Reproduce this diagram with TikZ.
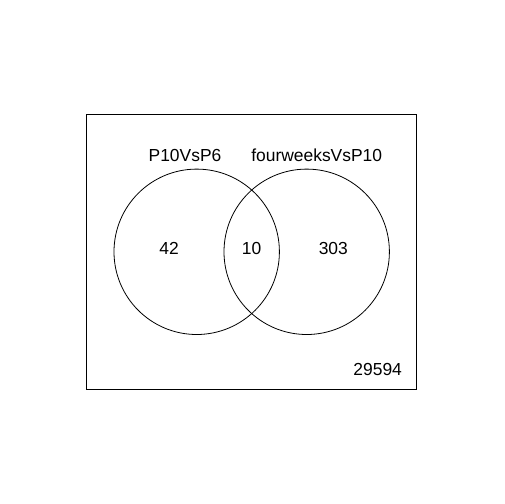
\documentclass[tikz,border=0pt]{standalone}
\usepackage{fontspec}
\setmainfont{Liberation Sans}
\usetikzlibrary{positioning}

\begin{document}
\begin{tikzpicture}[
    x=1bp, y=-1bp,
    line width=0.8bp,
    set/.style={draw, circle, minimum size=165.4bp, inner sep=0pt},
    lbl/.style={font=\fontsize{17.5}{20}\selectfont, inner sep=0pt}
]

\useasboundingbox (0,0) rectangle (504,504);

\node[draw, minimum width=330bp, minimum height=275.3bp, inner sep=0pt] (frame) at (251.7,251.7) {};

\node[set] (p10) at (196.7,251.8) {};
\node[set] (four) at (306.7,251.8) {};

\node[lbl] (p10name) at (185,155) {P10VsP6};
\node[lbl] (fourname) at (316.7,155) {fourweeksVsP10};
\node[lbl] (only1) at (169,248) {42};
\node[lbl] (both) at (251.5,248) {10};
\node[lbl] (only2) at (333.3,248) {303};
\node[lbl] (rest) at (377.7,369) {29594};

\end{tikzpicture}
\end{document}
